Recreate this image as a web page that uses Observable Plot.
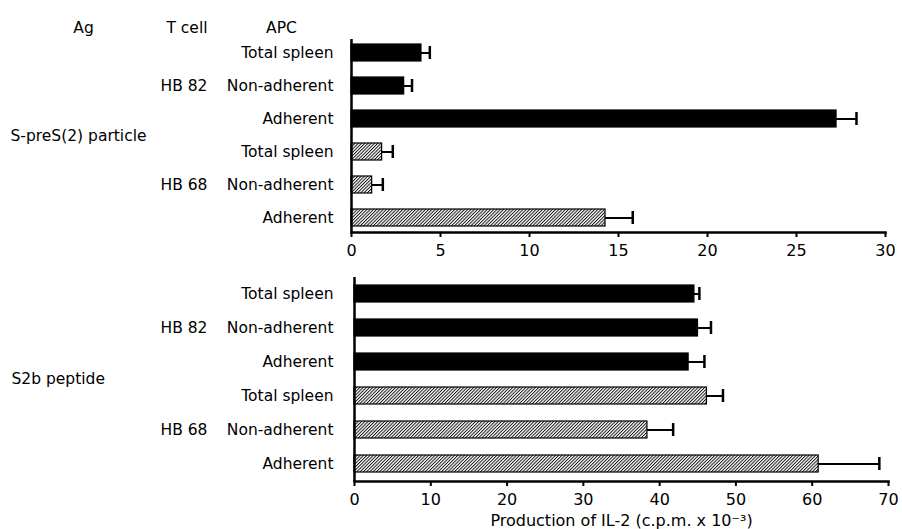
<!DOCTYPE html>
<html>
<head>
<meta charset="utf-8">
<script src="https://cdn.jsdelivr.net/npm/d3@7"></script>
<script src="https://cdn.jsdelivr.net/npm/@observablehq/plot@0.6"></script>
<style>
  html, body { margin: 0; padding: 0; background: #fff; }
  #chart { width: 902px; height: 529px; position: relative; }
  #chart svg.plot { display: block; }
</style>
</head>
<body>
<svg width="0" height="0" style="position:absolute">
  <defs>
    <pattern id="hatch" patternUnits="userSpaceOnUse" width="2.3" height="2.3" patternTransform="rotate(45)">
      <rect width="2.3" height="2.3" fill="white"></rect>
      <line x1="0.5" y1="0" x2="0.5" y2="2.3" stroke="black" stroke-width="0.9"></line>
    </pattern>
  </defs>
</svg>
<div id="chart"></div>
<script>
// ---- data ----
const tcells = ["HB 82", "HB 82", "HB 82", "HB 68", "HB 68", "HB 68"];
const apcs = ["Total spleen", "Non-adherent", "Adherent", "Total spleen", "Non-adherent", "Adherent"];
const particleMean = [3.93, 2.96, 27.25, 1.72, 1.16, 14.27];
const particleSem = [0.47, 0.44, 1.12, 0.6, 0.6, 1.53];
const peptideMean = [44.56, 45.03, 43.8, 46.2, 38.4, 60.85];
const peptideSem = [0.65, 1.7, 2.07, 2.1, 3.37, 7.95];
const particleTicks = [0, 5, 10, 15, 20, 25, 30];
const peptideTicks = [0, 10, 20, 30, 40, 50, 60, 70];
const antigens = ["S-preS(2) particle", "S2b peptide"];
const headers = ["Ag", "T cell", "APC"];
const xTitle = "Production of IL-2 (c.p.m. x 10\u207B\u00B3)";

const FONT = "DejaVu Sans";
const FS = 15.5;   // row labels
const FT = 16;     // tick labels & title

function rows(mean, sem) {
  return tcells.map((t, i) => ({
    key: t + " | " + apcs[i] + " | " + i,
    tcell: t,
    apc: apcs[i],
    mean: mean[i],
    hi: mean[i] + sem[i],
    showT: i === 1 || i === 4
  }));
}

function panel(o) {
  const {data, ticks} = o;
  const apcOf = Object.fromEntries(data.map(d => [d.key, d.apc]));
  const marks = [
    Plot.barX(data, {x: "mean", y: "key", fill: "tcell", stroke: "black", strokeWidth: 1.2}),
    Plot.ruleY(data, {y: "key", x1: "mean", x2: "hi", stroke: "black", strokeWidth: 2}),
    Plot.tickX(data, {x: "hi", y: "key", stroke: "black", strokeWidth: 2.5, insetTop: 2, insetBottom: 2}),
    Plot.ruleX([0], {stroke: "black", strokeWidth: 2.5}),
    Plot.frame({anchor: "bottom", stroke: "black", strokeWidth: 2.5}),
    Plot.axisY({tickSize: 0, tickPadding: o.apcPad, tickFormat: k => apcOf[k], fontSize: FS, label: null}),
    Plot.axisX({ticks, tickSize: 5, strokeWidth: 2, tickPadding: 7, fontSize: FT,
      label: o.label, labelAnchor: "center", labelArrow: "none", labelOffset: 44}),
    Plot.text(data.filter(d => d.showT), {y: "key", text: "tcell", frameAnchor: "left", dx: o.tDx, textAnchor: "end", fontSize: FS}),
    Plot.text([o.ag], {text: d => d, frameAnchor: "left", dx: o.agDx, textAnchor: "start", fontSize: FS})
  ];
  if (o.showHeaders) {
    const hx = [-268, -144, -70];
    const ha = ["middle", "end", "middle"];
    headers.forEach((h, i) => {
      marks.push(Plot.text([h], {text: d => d, frameAnchor: "top-left", dx: hx[i], dy: -18, textAnchor: ha[i], fontSize: FS}));
    });
  }
  return Plot.plot({
    width: 902,
    height: o.height,
    marginTop: o.marginTop,
    marginBottom: o.marginBottom,
    marginLeft: o.marginLeft,
    marginRight: o.marginRight,
    style: {fontFamily: FONT, fontSize: FT + "px", background: "white", color: "black"},
    x: {domain: [ticks[0], ticks[ticks.length - 1]], label: null},
    y: {domain: data.map(d => d.key), paddingInner: o.pi, paddingOuter: o.po, axis: null},
    color: {domain: ["HB 82", "HB 68"], range: ["black", "url(#hatch)"]},
    marks
  });
}

const topPanel = panel({
  data: rows(particleMean, particleSem), ticks: particleTicks,
  height: 262, marginTop: 39, marginBottom: 30, marginLeft: 351, marginRight: 17,
  pi: 0.48, po: 0.13, apcPad: 18, tDx: -144, agDx: -341,
  ag: antigens[0], showHeaders: true, label: null
});
const bottomPanel = panel({
  data: rows(peptideMean, peptideSem), ticks: peptideTicks,
  height: 267, marginTop: 15, marginBottom: 48, marginLeft: 354, marginRight: 14,
  pi: 0.49, po: 0.16, apcPad: 21, tDx: -147, agDx: -343,
  ag: antigens[1], showHeaders: false, label: xTitle
});
const el = document.getElementById("chart");
el.appendChild(topPanel);
el.appendChild(bottomPanel);
</script>
</body>
</html>
